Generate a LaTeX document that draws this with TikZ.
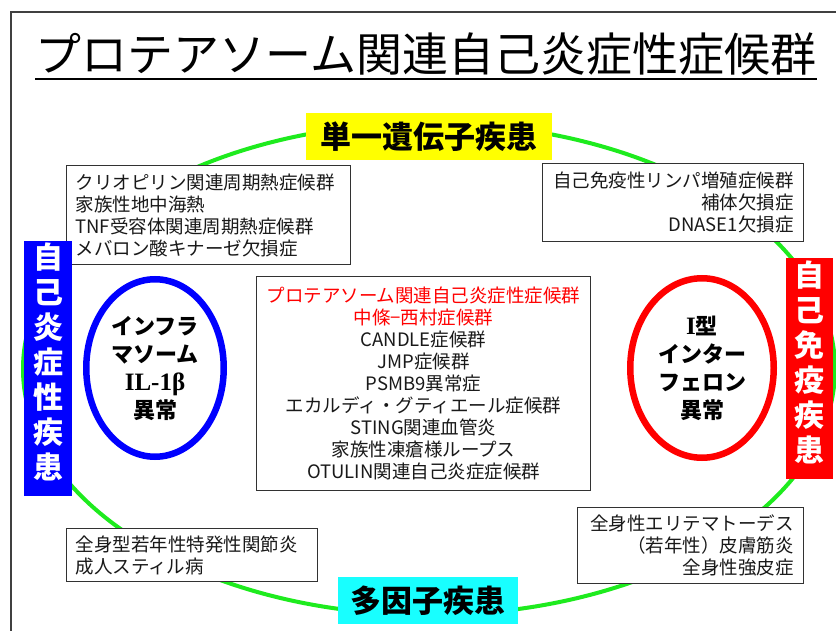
\documentclass[tikz,border=0pt]{standalone}
\usepackage{fontspec}
\setmainfont{Noto Sans CJK JP}
\newfontfamily\serifb{Liberation Serif}
\usetikzlibrary{shapes.geometric}
\definecolor{ringgreen}{RGB}{30,235,30}
\definecolor{tagyellow}{RGB}{255,255,0}
\definecolor{tagcyan}{RGB}{24,255,255}
\definecolor{boxline}{RGB}{50,50,50}
\definecolor{bodytext}{RGB}{25,25,25}
\newcommand{\liftpad}{\rule[-15pt]{0pt}{15pt}}
\begin{document}
\begin{tikzpicture}[x=1pt,y=-1pt,
  listbox/.style={draw=boxline, line width=1pt, fill=white, inner xsep=9pt, inner ysep=0pt,
    font=\fontsize{18.5}{22}\selectfont, text=bodytext, anchor=north west},
  tagbox/.style={inner sep=0pt, minimum height=47pt, font=\fontsize{31}{35}\selectfont\bfseries, text=black},
  vbox/.style={inner sep=0pt, text=white, font=\fontsize{30}{35}\selectfont\bfseries, align=center},
  ring/.style={ellipse, line width=6.5pt, fill=white, inner sep=0pt,
    font=\fontsize{22}{28}\selectfont\bfseries, align=center, text=black}]
\useasboundingbox (0,0) rectangle (836,631);
\fill[white] (0,0) rectangle (836,631);
\draw[black!75, line width=1.5pt] (11,631) -- (11,12) -- (836,12);

% title
\node[inner sep=0pt, anchor=base, font=\fontsize{46}{50}\selectfont] (title) at (426,72)
  {プロテアソーム関連自己炎症性症候群};
\draw[black, line width=2pt] ([yshift=-7pt]title.base west) -- ([yshift=-7pt]title.base east);

% big green ring
\draw[ringgreen, line width=4pt] (429,369) ellipse [x radius=406, y radius=246];

% list boxes
\node[listbox, minimum width=284pt, minimum height=99pt, text width=266pt, align=left] (tl) at (66,165)
  {クリオピリン関連周期熱症候群\\家族性地中海熱\\TNF受容体関連周期熱症候群\\メバロン酸キナーゼ欠損症};
\node[listbox, inner xsep=10pt, minimum width=261pt, minimum height=78pt, text width=241pt, align=right] (tr) at (542,163)
  {自己免疫性リンパ増殖症候群\\補体欠損症\\DNASE1欠損症};
\node[listbox, minimum width=334pt, minimum height=214pt, text width=316pt, align=center] (mid) at (256,276)
  {\textcolor{red}{プロテアソーム関連自己炎症性症候群}\\\textcolor{red}{中條−西村症候群}\\CANDLE症候群\\JMP症候群\\PSMB9異常症\\エカルディ・グティエール症候群\\STING関連血管炎\\家族性凍瘡様ループス\\OTULIN関連自己炎症症候群};
\node[listbox, minimum width=251pt, minimum height=53pt, text width=233pt, align=left] (bl) at (66,528)
  {全身型若年性特発性関節炎\\成人スティル病};
\node[listbox, inner xsep=10pt, minimum width=226pt, minimum height=76pt, text width=206pt, align=right] (br) at (577,507)
  {全身性エリテマトーデス\\（若年性）皮膚筋炎\\全身性強皮症};

% category tags
\node[tagbox, fill=tagyellow, minimum width=246pt] (single) at (429,136.5) {単一遺伝子疾患};
\node[tagbox, fill=tagcyan, minimum width=180pt] (multi) at (428,600.5) {多因子疾患};
\node[vbox, fill=blue, minimum width=48pt, minimum height=255pt] (auto) at (48,368.5)
  {自\\己\\炎\\症\\性\\疾\\患\liftpad};
\node[vbox, fill=red, minimum width=47pt, minimum height=221pt] (immune) at (809.5,368.5)
  {自\\己\\免\\疫\\疾\\患\liftpad};

% mechanism rings
\node[ring, draw=blue, minimum width=137.5pt, minimum height=177.5pt] (infl) at (155,368)
  {インフラ\\マソーム\\{\serifb\bfseries\fontsize{25}{28}\selectfont IL-1β}\\異常};
\node[ring, draw=red, minimum width=143.5pt, minimum height=179.5pt] (ifn) at (702,368)
  {{\serifb\bfseries\fontsize{25}{28}\selectfont I}型\\インター\\フェロン\\異常};
\end{tikzpicture}
\end{document}
